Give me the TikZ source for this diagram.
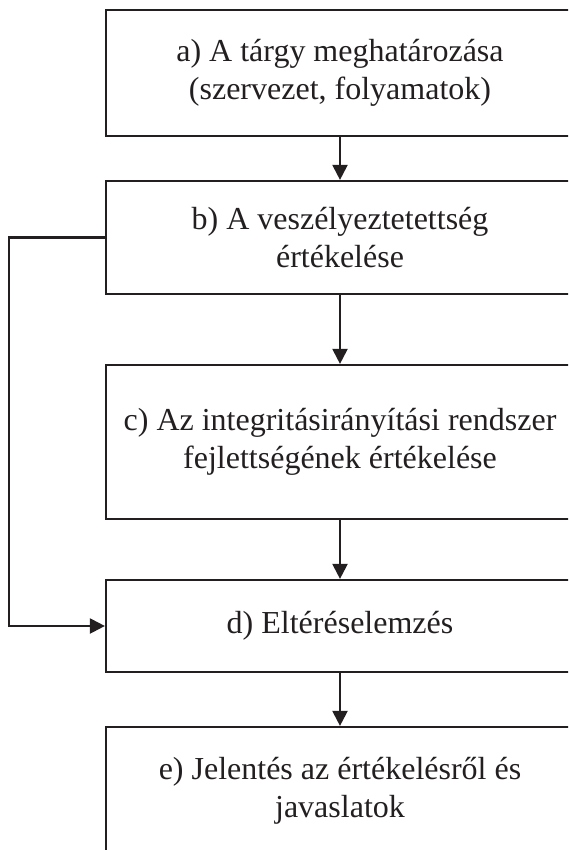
\documentclass[tikz,border=0pt]{standalone}
\usepackage{fontspec}
\setmainfont{Liberation Serif}
\usetikzlibrary{arrows.meta}
\definecolor{ink}{HTML}{231F20}
\begin{document}
\begin{tikzpicture}[x=1pt,y=1pt,
  box/.style={draw=ink, line width=2.2pt, text=ink, align=center,
    minimum width=468pt, inner sep=0pt, font=\fontsize{32}{38}\selectfont},
  arr/.style={draw=ink, line width=2.2pt, -{Triangle[length=15pt,width=15pt]}}]
\useasboundingbox (0,0) rectangle (568,-850);
\clip (0,0) rectangle (568,-850);
\node[box, minimum height=126pt] (a) at (340,-73) {a) A tárgy meghatározása\\(szervezet, folyamatok)};
\node[box, minimum height=113pt] (b) at (340,-237.5) {b) A veszélyeztetettség\\értékelése};
\node[box, minimum height=154pt] (c) at (340,-442) {c) Az integritásirányítási rendszer\\fejlettségének értékelése};
\node[box, minimum height=92pt] (d) at (340,-626) {d) Eltéréselemzés};
\node[box, minimum height=128pt] (e) at (340,-791) {e) Jelentés az értékelésről és\\javaslatok};
\coordinate (f1) at (9,-237.5);
\coordinate (f2) at (9,-626);
\draw[arr] (a.south) -- (b.north);
\draw[arr] (b.south) -- (c.north);
\draw[arr] (c.south) -- (d.north);
\draw[arr] (d.south) -- (e.north);
\draw[arr] (b.west) -- (f1) -- (f2) -- (d.west);
\end{tikzpicture}
\end{document}
